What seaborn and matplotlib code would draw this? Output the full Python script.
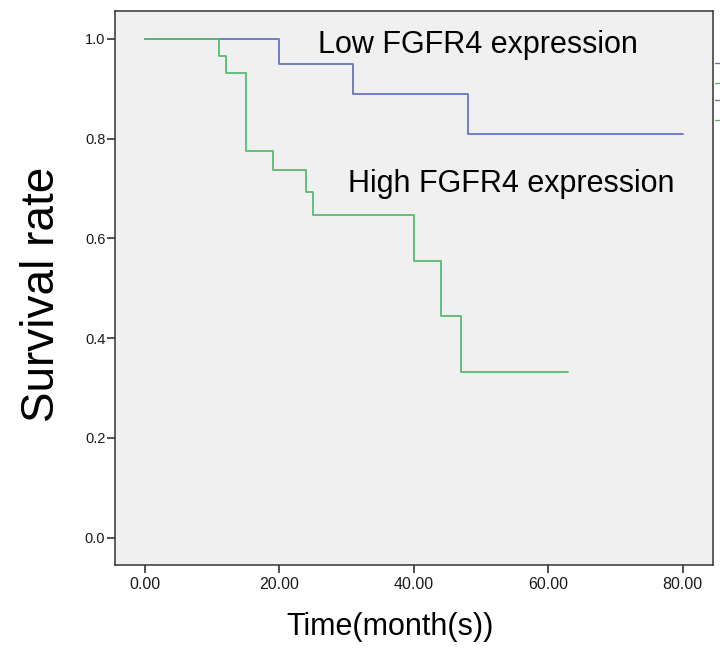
import pandas as pd
import seaborn as sns
import matplotlib.pyplot as plt
from matplotlib.lines import Line2D

# Kaplan-Meier step values
low_time = [0, 20, 31, 48, 80]
low_surv = [1.0, 0.95, 0.89, 0.81, 0.81]

high_time = [0, 11, 12, 15, 19, 24, 25, 40, 44, 47, 63]
high_surv = [1.0, 0.966, 0.931, 0.776, 0.737, 0.693, 0.647, 0.555, 0.444, 0.333, 0.333]

x_ticks = [0, 20, 40, 60, 80]
y_ticks = [0.0, 0.2, 0.4, 0.6, 0.8, 1.0]

df = pd.concat([
    pd.DataFrame({'time': low_time, 'surv': low_surv, 'group': 'Low'}),
    pd.DataFrame({'time': high_time, 'surv': high_surv, 'group': 'High'}),
], ignore_index=True)

sns.set_style("ticks")
plt.rcParams['font.family'] = ['Liberation Sans', 'DejaVu Sans']
plt.rcParams['text.color'] = 'black'
plt.rcParams['axes.labelcolor'] = 'black'

blue = "#6674bf"
green = "#55bb6e"

fig = plt.figure(figsize=(7.25, 6.57), dpi=100)
ax = fig.add_axes([115 / 725, 1 - 565 / 657, 597.5 / 725, 554 / 657])
ax.set_facecolor("#f0f0f0")

sns.lineplot(data=df, x='time', y='surv', hue='group',
             palette={'Low': blue, 'High': green},
             estimator=None, sort=False, drawstyle='steps-post',
             linewidth=1.3, legend=False, ax=ax)

ax.set_xlim(-4.45, 84.45)
ax.set_ylim(-0.055, 1.056)
ax.set_xticks(x_ticks)
ax.set_xticklabels([f"{t:.2f}" for t in x_ticks], fontsize=11.5, color="#1a1a1a")
ax.set_yticks(y_ticks)
ax.set_yticklabels([f"{t:.1f}" for t in y_ticks], fontsize=10.5, color="#1a1a1a")
ax.tick_params(axis='x', length=6, width=1.2, pad=2.5, color="#333333")
ax.tick_params(axis='y', length=6, width=1.2, pad=1, color="#333333")

for s in ax.spines.values():
    s.set_color("#333333")
    s.set_linewidth(1.1)

ax.set_xlabel("Time(month(s))", fontsize=22)
ax.xaxis.set_label_coords((390 - 115) / 597.5, -0.085)
ax.set_ylabel("Survival rate", fontsize=33)
ax.yaxis.set_label_coords(-0.086, 0.489)

ax.text(25.7, 0.972, "Low FGFR4 expression", fontsize=22, va='baseline')
ax.text(30.25, 0.693, "High FGFR4 expression", fontsize=22, va='baseline')

# little legend fragments peeking out beyond the right edge
for yy, c in [(63, blue), (83, green), (100, blue), (120, green)]:
    fig.add_artist(Line2D([715 / 725, 719 / 725], [1 - yy / 657] * 2,
                          color=c, lw=1, transform=fig.transFigure))

plt.savefig("out.png", dpi=100)
